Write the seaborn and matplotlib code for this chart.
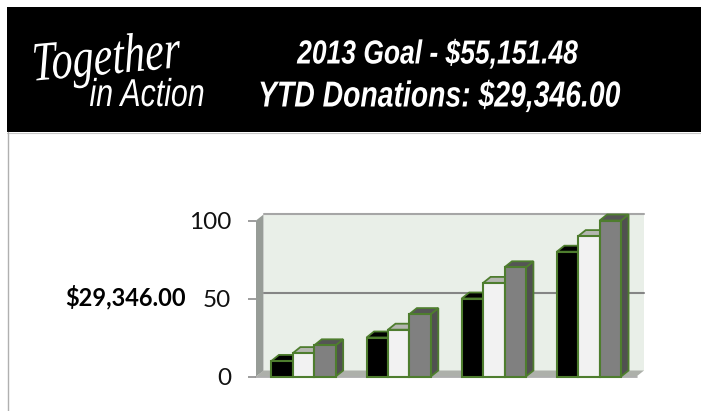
import matplotlib; matplotlib.use('Agg')
import pandas as pd
import seaborn as sns
import matplotlib.pyplot as plt
from matplotlib.patches import Polygon, Rectangle
from matplotlib.patheffects import AbstractPathEffect
from matplotlib.transforms import Affine2D

# Values
quarters = ['Q1', 'Q2', 'Q3', 'Q4']
series_names = ['Low', 'Mid', 'High']
low_vals = [10, 25, 50, 80]
mid_vals = [15, 30, 60, 90]
high_vals = [20, 40, 70, 100]
y_ticks = [0, 50, 100]
goal_line = '2013 Goal - $55,151.48'
ytd_line = 'YTD Donations: $29,346.00'
ytd_label = '$29,346.00'

front_colors = ['#000000', '#F2F2F2', '#808080']
top_colors = ['#000000', '#B4B6B0', '#555555']
side_colors = ['#000000', '#B4B6B0', '#505050']
edge_green = '#4E7D2E'

W, H = 701, 411
DX, DY = 7.5, 6  # 3d depth in pixels


def fx(px):
    return px / W


def fy(py):
    return 1 - py / H


# no condensed font installed, so narrow the glyphs around the text centre
class Squeeze(AbstractPathEffect):
    def __init__(self, cx, sx):
        super().__init__()
        self.cx = cx
        self.sx = sx

    def draw_path(self, renderer, gc, tpath, affine, rgbFace=None):
        squeeze = Affine2D().translate(-self.cx, 0).scale(self.sx, 1).translate(self.cx, 0)
        renderer.draw_path(gc, tpath, affine + squeeze, rgbFace)


df = pd.DataFrame({
    'quarter': quarters * 3,
    'series': [s for s in series_names for _ in quarters],
    'value': low_vals + mid_vals + high_vals,
})

sns.set_theme(style='white')
fig = plt.figure(figsize=(W / 100, H / 100), dpi=100, facecolor='white')
ax = fig.add_axes([fx(256), fy(376.5), (636.5 - 256) / W, (376.5 - 220.5) / H])
ax.patch.set_alpha(0)

sns.barplot(data=df, x='quarter', y='value', hue='series', palette=front_colors,
            width=0.675, gap=0, saturation=1, legend=False, ax=ax, zorder=3)
ax.set_xlim(-0.5, 3.5)
ax.set_ylim(0, 100)
ax.set_xlabel('')
ax.set_ylabel('')
ax.set_xticks([])
ax.set_yticks(y_ticks)
ax.set_yticklabels([str(t) for t in y_ticks], fontfamily='Lato', fontsize=17.5, color='#111111')
ax.tick_params(axis='y', left=True, length=5.8, width=1.2, color='#8C8C8C', pad=12)
sns.despine(ax=ax, left=True, bottom=True, top=True, right=True)


# chart walls, in pixels of the figure
def wall(points, color, z=-5):
    fig.add_artist(Polygon([(fx(x), fy(y)) for x, y in points], closed=True, transform=fig.transFigure,
                           facecolor=color, edgecolor='none', zorder=z))


def hline(x0, x1, y, color, lw):
    fig.add_artist(plt.Line2D([fx(x0), fx(x1)], [fy(y), fy(y)], color=color, lw=lw, zorder=-4))


wall([(263.5, 214.5), (644, 214.5), (644, 371), (263.5, 371)], '#E9EFE8')
wall([(256, 220.5), (263.5, 214.5), (263.5, 371), (256, 376.5)], '#979C97')
wall([(256, 376.5), (263.5, 370.5), (644, 370.5), (636.5, 376.5)], '#ADB0AA')
hline(263.5, 644, 214.5, '#A6A6A6', 1.5)
hline(263.5, 644, 292.5, '#858585', 1.5)
hline(256, 637, 377, '#A6A6A6', 1.2)

# side and top faces come from the bars seaborn drew
n = len(quarters)
for i, bar in enumerate(ax.patches):
    k = i // n
    (x0, y0), (x1, y1) = ax.transData.transform(bar.get_bbox().get_points())
    bar.set_edgecolor(edge_green)
    bar.set_linewidth(1.5)
    bar.set_clip_on(False)
    top = [(x0, y1), (x1, y1), (x1 + DX, y1 + DY), (x0 + DX, y1 + DY)]
    side = [(x1, y0), (x1 + DX, y0 + DY), (x1 + DX, y1 + DY), (x1, y1)]
    for pts, col in ((side, side_colors[k]), (top, top_colors[k])):
        ax.add_patch(Polygon(pts, closed=True, transform=None, facecolor=col, edgecolor=edge_green,
                             linewidth=1.3, zorder=2, clip_on=False))

# header band
fig.add_artist(Rectangle((fx(7), fy(132)), 1 - fx(7), 125 / H, transform=fig.transFigure,
                         facecolor='black', edgecolor='none', zorder=-3))
fig.add_artist(plt.Line2D([fx(7.5), fx(7.5)], [fy(132), 0], color='#B0B0B0', lw=1, zorder=-3))
hline(7, 701, 133, '#C8C8C8', 0.8)


def header_text(s, cx, cy, size, sx, **kw):
    t = fig.text(fx(cx), fy(cy), s, color='white', fontsize=size, ha='center', va='center', **kw)
    t.set_path_effects([Squeeze(cx, sx)])
    return t


header_text(goal_line, 438, 55, 24, 0.793, family='Liberation Sans', style='italic', weight='bold')
header_text(ytd_line, 439.5, 97, 26, 0.785, family='Liberation Sans', style='italic', weight='bold')
header_text('Together', 106, 60, 40, 0.76, family='Liberation Serif', style='italic', rotation=4)
header_text('in Action', 147, 96, 28, 0.78, family='Liberation Sans', style='italic')
fig.text(fx(186), fy(297), ytd_label, color='black', family='Lato', weight='bold',
         fontsize=17, ha='right', va='center')

fig.savefig('out.png', dpi=100)
